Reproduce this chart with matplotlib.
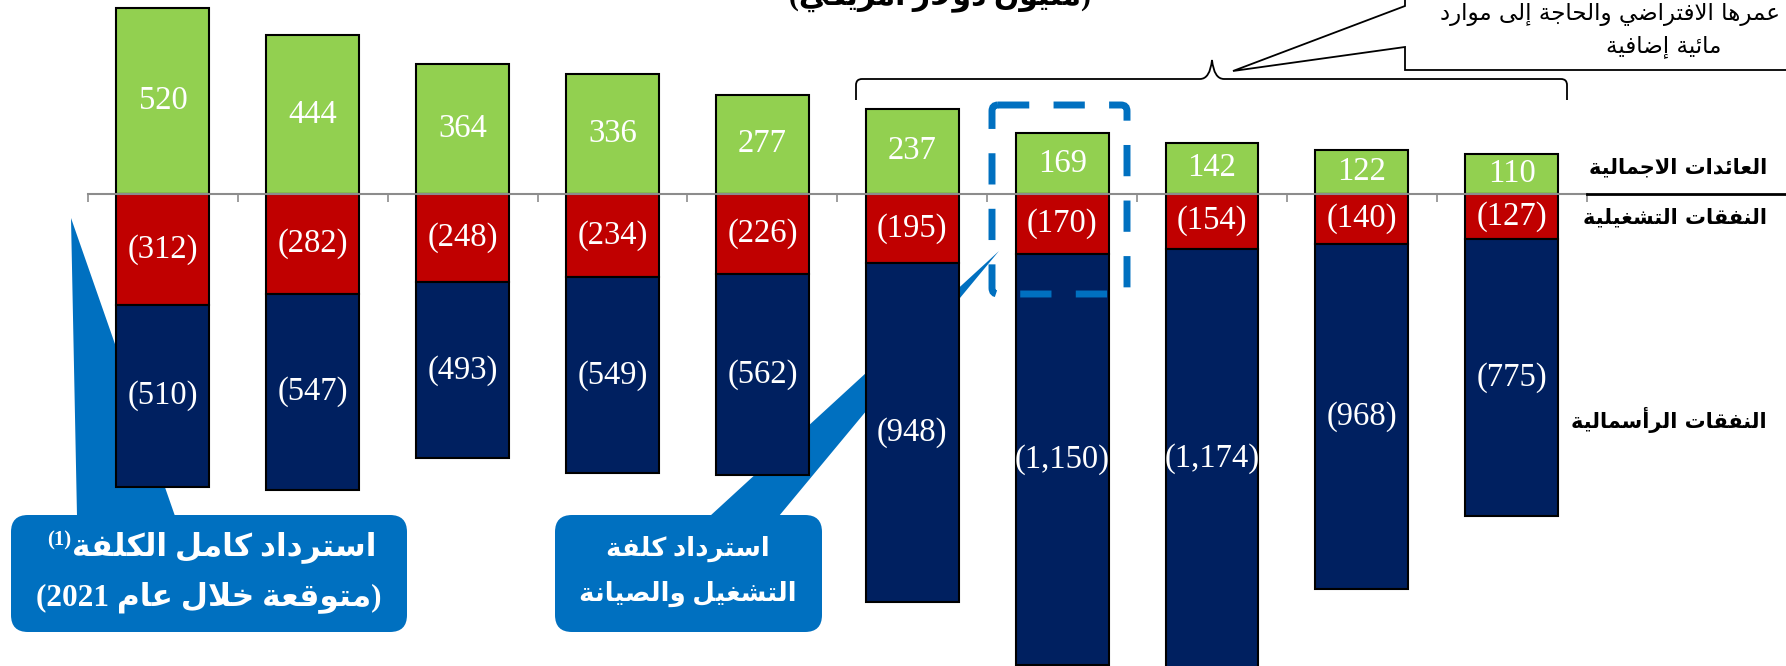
import re
import matplotlib
matplotlib.use('Agg')
import matplotlib.pyplot as plt
from matplotlib.patches import FancyBboxPatch, Polygon, PathPatch
from matplotlib.path import Path
from matplotlib.transforms import Affine2D

# yearly values (millions), shown as stacked bars around zero
revenue = [520, 444, 364, 336, 277, 237, 169, 142, 122, 110]
opex = [312, 282, 248, 234, 226, 195, 170, 154, 140, 127]
capex = [510, 547, 493, 549, 562, 948, 1150, 1174, 968, 775]

row_labels = ['العائدات الاجمالية', 'النفقات التشغيلية', 'النفقات الرأسمالية']
title = '(مليون دولار أمريكي)'
note_lines = ['بسبب عمرها الافتراضي والحاجة إلى موارد', 'مائية إضافية']
full_recovery = ['استرداد كامل الكلفة', '(1)', '(متوقعة خلال عام 2021)']
om_recovery = ['استرداد كلفة', 'التشغيل والصيانة']

GREEN, RED, NAVY, BLUE = '#92D050', '#C00000', '#002060', '#0070C0'
W, H = 1786, 666

# --- minimal Arabic shaping (matplotlib has no text shaping / bidi) ---
DUAL = {'ئ': 0xFE89, 'ب': 0xFE8F, 'ت': 0xFE95, 'ث': 0xFE99, 'ج': 0xFE9D, 'ح': 0xFEA1,
        'خ': 0xFEA5, 'س': 0xFEB1, 'ش': 0xFEB5, 'ص': 0xFEB9, 'ض': 0xFEBD, 'ط': 0xFEC1,
        'ظ': 0xFEC5, 'ع': 0xFEC9, 'غ': 0xFECD, 'ف': 0xFED1, 'ق': 0xFED5, 'ك': 0xFED9,
        'ل': 0xFEDD, 'م': 0xFEE1, 'ن': 0xFEE5, 'ه': 0xFEE9, 'ي': 0xFEF1}
RIGHT = {'آ': 0xFE81, 'أ': 0xFE83, 'ؤ': 0xFE85, 'إ': 0xFE87, 'ا': 0xFE8D, 'ة': 0xFE93,
         'د': 0xFEA9, 'ذ': 0xFEAB, 'ر': 0xFEAD, 'ز': 0xFEAF, 'و': 0xFEED, 'ى': 0xFEEF}
LAMALEF = {'آ': 0xFEF5, 'أ': 0xFEF7, 'إ': 0xFEF9, 'ا': 0xFEFB}


def shape(s):
    out = []
    i = 0
    while i < len(s):
        c = s[i]
        prev = i > 0 and s[i - 1] in DUAL
        if c == 'ل' and i + 1 < len(s) and s[i + 1] in LAMALEF:
            out.append(chr(LAMALEF[s[i + 1]] + (1 if prev else 0)))
            i += 2
            continue
        if c in DUAL:
            nxt = i + 1 < len(s) and (s[i + 1] in DUAL or s[i + 1] in RIGHT)
            off = 3 if (prev and nxt) else 2 if nxt else 1 if prev else 0
            out.append(chr(DUAL[c] + off))
        elif c in RIGHT:
            out.append(chr(RIGHT[c] + (1 if prev else 0)))
        else:
            out.append(c)
        i += 1
    return ''.join(out)


def visual(s):
    t = shape(s)[::-1]
    t = re.sub(r'[0-9,.]+', lambda m: m.group(0)[::-1], t)
    return t.translate(str.maketrans('()', ')('))


fig = plt.figure(figsize=(W / 100, H / 100), dpi=100)
ax = fig.add_axes([0, 0, 1, 1])
ax.set_xlim(-1.087, 10.83)
ax.set_ylim(-1323, 542)

x = list(range(len(revenue)))
neg_opex = [-v for v in opex]
neg_capex = [-v for v in capex]
kw = dict(width=0.62, edgecolor='black', linewidth=1.5, zorder=2)
ax.bar(x, revenue, color=GREEN, **kw)
ax.bar(x, neg_opex, color=RED, **kw)
ax.bar(x, neg_capex, bottom=neg_opex, color=NAVY, **kw)

for s in ['left', 'right', 'top']:
    ax.spines[s].set_visible(False)
ax.spines['bottom'].set_position(('data', 0))
ax.spines['bottom'].set_bounds(-0.5, len(x) - 0.5)
ax.spines['bottom'].set_color('#8c8c8c')
ax.spines['bottom'].set_linewidth(1.5)
ax.set_xticks([i - 0.5 for i in range(len(x) + 1)])
ax.tick_params(axis='x', direction='out', length=6, width=1.2, color='#8c8c8c', labelbottom=False)
ax.set_yticks([])
ax.set_axisbelow(False)
ax.plot([len(x) - 0.5, 12], [0, 0], color='black', lw=2, zorder=3)

num = dict(ha='center', va='center', color='white', fontsize=23.5, family='Liberation Serif', zorder=5)
for i in x:
    ax.text(i, revenue[i] / 2, f'{revenue[i]}', **num)
    ax.text(i, -opex[i] / 2, f'({opex[i]:,})', **num)
    ax.text(i, -opex[i] - capex[i] / 2, f'({capex[i]:,})', **num)

# pixel coordinates (origin top-left) for the annotations
pix = Affine2D().scale(1 / W, -1 / H).translate(0, 1) + fig.transFigure


def callout(box, wedge):
    x0, y0, x1, y1 = box
    ax.add_patch(Polygon(wedge, closed=True, fc=BLUE, ec='none', transform=pix, zorder=1))
    ax.add_patch(FancyBboxPatch((x0, y0), x1 - x0, y1 - y0, boxstyle='round,pad=0,rounding_size=17',
                                fc=BLUE, ec='none', transform=pix, zorder=1))


callout((11, 515, 407, 632), [(77, 516), (175, 516), (71, 218)])
callout((555, 515, 822, 632), [(710, 516), (779, 516), (999, 251)])

# dashed highlight
ax.add_patch(FancyBboxPatch((992, 105), 135, 189, boxstyle='round,pad=0,rounding_size=6', fill=False,
                            ec=BLUE, lw=5, linestyle=(0, (4.5, 3.5)), transform=pix, zorder=4))

# brace over the last years
M, L, C = Path.MOVETO, Path.LINETO, Path.CURVE3
verts = [(856, 100), (856, 85), (856, 79), (862, 79), (1200, 79), (1210, 79), (1212, 60),
         (1214, 79), (1224, 79), (1561, 79), (1567, 79), (1567, 85), (1567, 100)]
codes = [M, L, C, C, L, C, C, C, C, L, C, C, L]
ax.add_patch(PathPatch(Path(verts, codes), fill=False, ec='black', lw=1.3, transform=pix, zorder=4))

# note box top right
ax.add_patch(Polygon([(1405, -10), (1405, 6), (1233, 71), (1405, 47), (1405, 70), (1800, 70), (1800, -10)],
                     closed=True, fc='white', ec='black', lw=1.3, transform=pix, zorder=4))

mixed = ['Liberation Serif', 'DejaVu Sans']
txt = dict(transform=pix, zorder=6)
t_title = ax.text(940, 5, visual(title), ha='center', va='baseline', fontsize=20, weight='bold',
                  family=mixed, **txt)
t_note1 = ax.text(1440, 15, visual(note_lines[0]), ha='left', va='center', fontsize=15, family='DejaVu Sans', **txt)
t_note2 = ax.text(1664, 46, visual(note_lines[1]), ha='center', va='center', fontsize=15, family='DejaVu Sans', **txt)

t_rows = [ax.text(1767, yy, visual(s), ha='right', va='center', fontsize=15, weight='bold',
                  family='DejaVu Sans', **txt) for s, yy in zip(row_labels, [167, 217, 420])]

t_c1a = ax.text(224, 547, visual(full_recovery[0]), ha='center', va='center', fontsize=20, weight='bold',
                color='white', family=mixed, **txt)
t_c1b = ax.text(209, 597, visual(full_recovery[2]), ha='center', va='center', fontsize=20, weight='bold',
                color='white', family=mixed, **txt)
t_c2a = ax.text(688, 549, visual(om_recovery[0]), ha='center', va='center', fontsize=20, weight='bold',
                color='white', family=mixed, **txt)
t_c2b = ax.text(688, 594, visual(om_recovery[1]), ha='center', va='center', fontsize=20, weight='bold',
                color='white', family=mixed, **txt)

r = fig.canvas.get_renderer()


def fit(t, width, grow=1.0):
    w = t.get_window_extent(r).width
    t.set_fontsize(t.get_fontsize() * width / w * grow)
    return t.get_fontsize()


fit(t_title, 302)
fs = fit(t_note2, 116)
t_note1.set_fontsize(fs)
fs = fit(t_rows[2], 196)
for t in t_rows:
    t.set_fontsize(fs)
fs = fit(t_c1b, 322, 1.07)
t_c1a.set_fontsize(fs)
fs = fit(t_c2b, 203, 1.07)
t_c2a.set_fontsize(fs)

# superscript note marker left of the first callout line
left = t_c1a.get_window_extent(r).x0
ax.text(left - 1, 540, full_recovery[1], ha='right', va='center', fontsize=15, weight='bold',
        color='white', family='Liberation Serif', transform=Affine2D().scale(1, -1).translate(0, H),
        zorder=6)

fig.savefig('out.png', dpi=100)
